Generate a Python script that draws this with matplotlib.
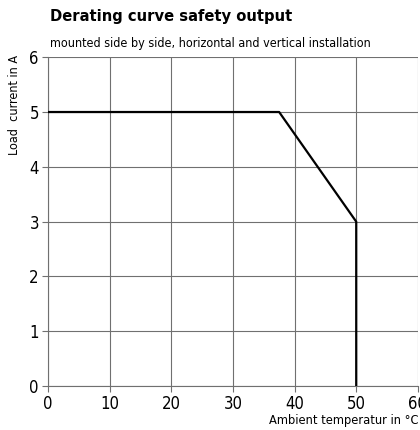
import matplotlib.pyplot as plt
import matplotlib as mpl

# Derating curve data
temp = [0, 37.5, 50, 50]
current = [5, 5, 3, 0]
x_ticks = [0, 10, 20, 30, 40, 50, 60]
y_ticks = [0, 1, 2, 3, 4, 5, 6]

mpl.rcParams['font.family'] = ['DejaVu Sans']
mpl.rcParams['font.stretch'] = 'condensed'

fig = plt.figure(figsize=(4.2, 4.3), dpi=100)
ax = fig.add_axes([0.114, 0.102, 0.881, 0.765])

ax.plot(temp, current, color='black', lw=1.6, solid_capstyle='butt', zorder=3)

ax.set_xlim(0, 60)
ax.set_ylim(0, 6)
ax.set_xticks(x_ticks)
ax.set_yticks(y_ticks)
ax.grid(True, color='#707070', lw=0.8)
for s in ['top', 'right']:
    ax.spines[s].set_visible(False)
for s in ['left', 'bottom']:
    ax.spines[s].set_color('#707070')
    ax.spines[s].set_linewidth(0.8)
ax.tick_params(length=4, width=0.8, color='#707070', labelsize=12, pad=2.5)

fig.text(0.119, 0.962, 'Derating curve safety output', fontsize=11.8,
         fontweight='bold', va='center', ha='left')
fig.text(0.119, 0.9, 'mounted side by side, horizontal and vertical installation',
         fontsize=9.0, va='center', ha='left')
fig.text(0.034, 0.756, 'Load  current in A', rotation=90, fontsize=9,
         va='center', ha='center')
fig.text(0.997, 0.022, 'Ambient temperatur in °C', fontsize=9.2,
         va='center', ha='right')

plt.savefig('out.png')
